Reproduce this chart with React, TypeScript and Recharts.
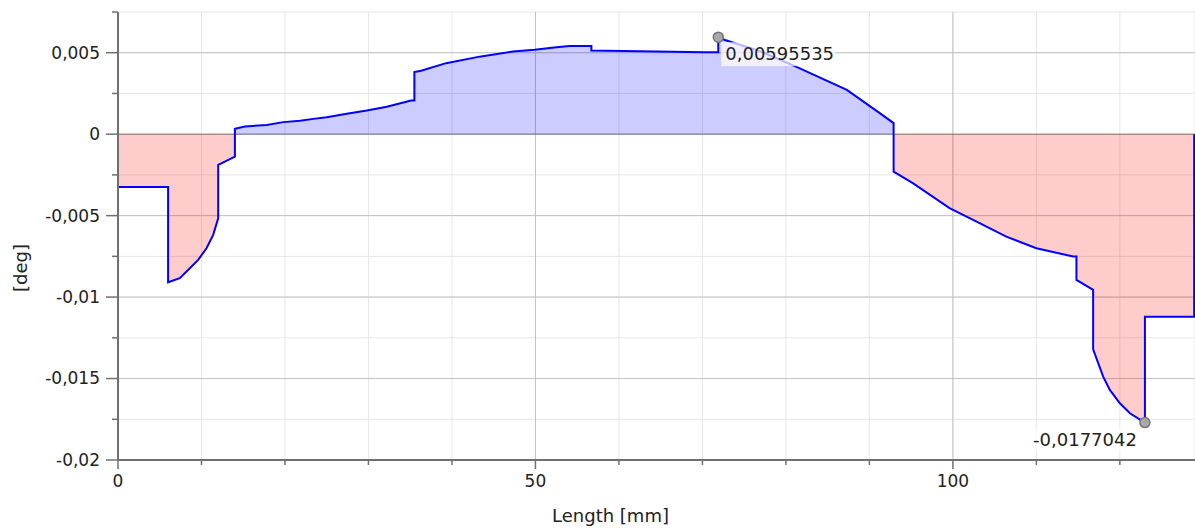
import {
  ComposedChart,
  Area,
  Line,
  Scatter,
  XAxis,
  YAxis,
  CartesianGrid,
} from 'recharts';

// rotation along the length
const lengthMm = [
  0, 0, 6.0, 6.0, 7.4, 8.6, 9.6, 10.6, 11.4, 12.0, 12.0, 12.8, 14.0, 14.0, 15.2, 17.8, 19.8, 21.8,
  23.4, 25.0, 27.4, 29.8, 32.2, 35.1, 35.5, 35.5, 36.3, 39.3, 43.3, 47.3, 49.9, 52.5, 54.1, 56.7,
  56.7, 70.3, 71.9, 71.9, 72.7, 76.9, 81.6, 87.3, 91.2, 92.9, 92.9, 95.2, 99.6, 103.2, 106.4, 110.0,
  114.4, 114.8, 114.8, 116.8, 116.8, 118.0, 118.8, 120.0, 121.2, 123.0, 123.0, 128.9, 128.9,
];
const rotationDeg = [
  0, -0.00324, -0.00324, -0.00909, -0.00884, -0.00823, -0.00772, -0.007, -0.00618, -0.00516,
  -0.00188, -0.00168, -0.00138, 0.00033, 0.00047, 0.00057, 0.00074, 0.00083, 0.00094, 0.00104,
  0.00125, 0.00145, 0.00169, 0.00206, 0.00206, 0.00381, 0.00389, 0.00436, 0.00476, 0.00507,
  0.00518, 0.00533, 0.00542, 0.00542, 0.00513, 0.00503, 0.00503, 0.00595535, 0.00578, 0.0051,
  0.00405, 0.00272, 0.00131, 0.00068, -0.0023, -0.00301, -0.00454, -0.00546, -0.00629, -0.007,
  -0.00751, -0.00751, -0.00894, -0.00956, -0.0132, -0.01488, -0.0157, -0.01652, -0.01713,
  -0.0177042, -0.0112, -0.0112, 0,
];

// marked extremes
const extremeX = [71.9, 123.0];
const extremeV = [0.00595535, -0.0177042];

const xTicks = [0, 10, 20, 30, 40, 50, 60, 70, 80, 90, 100, 110, 120];
const xMajor = [0, 50, 100];
const yTicks = [
  -0.02, -0.0175, -0.015, -0.0125, -0.01, -0.0075, -0.005, -0.0025, 0, 0.0025, 0.005, 0.0075,
];
const yMajor = [-0.02, -0.015, -0.01, -0.005, 0, 0.005];

const rows = lengthMm.map((x, i) => ({
  x,
  v: rotationDeg[i],
  pos: Math.max(rotationDeg[i], 0),
  neg: Math.min(rotationDeg[i], 0),
}));
const extremes = extremeX.map((x, i) => ({ x, v: extremeV[i] }));

const FONT = '"DejaVu Sans", Verdana, sans-serif';
const TEXT = '#222';
const comma = (v: number) => String(v).replace('.', ',');

const YTick = (props: any) => {
  const { x, y, payload } = props;
  const major = yMajor.includes(payload.value);
  return (
    <g>
      <line x1={x - (major ? 12 : 6)} x2={x} y1={y} y2={y} stroke="#707070" strokeWidth={1.5} />
      {major && (
        <text x={x - 18} y={y} dy="0.35em" textAnchor="end" fontSize={17} fontFamily={FONT} fill={TEXT}>
          {comma(payload.value)}
        </text>
      )}
    </g>
  );
};

const XTick = (props: any) => {
  const { x, y, payload } = props;
  const major = xMajor.includes(payload.value);
  return (
    <g>
      <line x1={x} x2={x} y1={y} y2={y + (major ? 9 : 5)} stroke="#707070" strokeWidth={1.5} />
      {major && (
        <text x={x} y={y + 21} dy="0.35em" textAnchor="middle" fontSize={17} fontFamily={FONT} fill={TEXT}>
          {payload.value}
        </text>
      )}
    </g>
  );
};

const ExtremeMark = (props: any) => {
  const { cx, cy, payload } = props;
  const txt = comma(payload.v);
  const right = payload.v > 0;
  const w = txt.length * 10.8 + 6;
  const bx = right ? cx + 3 : cx - 8 - w;
  return (
    <g>
      <rect x={bx} y={cy + 5} width={w} height={24} fill="#fff" fillOpacity={0.7} />
      <text
        x={right ? cx + 7 : cx - 8}
        y={cy + 23}
        textAnchor={right ? 'start' : 'end'}
        fontSize={18}
        fontFamily={FONT}
        fill={TEXT}
      >
        {txt}
      </text>
      <circle cx={cx} cy={cy} r={5} fill="#a9a9a9" stroke="#767676" strokeWidth={1.5} />
    </g>
  );
};

export default function App() {
  return (
    <div style={{ position: 'absolute', left: 0, top: 0, background: '#fff' }}>
      <ComposedChart width={1195} height={528} data={rows} margin={{ top: 12, right: 0, left: 0, bottom: 0 }}>
        <CartesianGrid stroke="#e6e6e6" />
        <CartesianGrid stroke="#c2c2c2" horizontalValues={[-0.015, -0.01, -0.005, 0.005]} verticalValues={[50, 100]} />
        <CartesianGrid stroke="#777" vertical={false} horizontalValues={[0]} />

        <XAxis
          dataKey="x"
          type="number"
          domain={[0, 129]}
          ticks={xTicks}
          interval={0}
          height={68}
          tickSize={0}
          tickMargin={0}
          tick={<XTick />}
          axisLine={{ stroke: '#707070', strokeWidth: 2 }}
          label={{
            value: 'Length [mm]',
            position: 'insideBottom',
            offset: 6,
            dx: -46,
            fontSize: 18,
            fontFamily: FONT,
            fill: TEXT,
          }}
        />
        <YAxis
          type="number"
          domain={[-0.02, 0.0075]}
          ticks={yTicks}
          interval={0}
          width={118}
          tickSize={0}
          tickMargin={0}
          tick={<YTick />}
          axisLine={{ stroke: '#707070', strokeWidth: 2 }}
          label={{
            content: (p: any) => {
              const vb = p.viewBox;
              const cy = vb.y + vb.height / 2 + 32;
              return (
                <text
                  x={21}
                  y={cy}
                  transform={`rotate(-90, 21, ${cy})`}
                  textAnchor="middle"
                  dy="0.35em"
                  fontSize={18}
                  fontFamily={FONT}
                  fill={TEXT}
                >
                  [deg]
                </text>
              );
            },
          }}
        />

        <Area
          type="linear"
          dataKey="pos"
          baseValue={0}
          stroke="none"
          fill="#0000ff"
          fillOpacity={0.2}
          isAnimationActive={false}
        />
        <Area
          type="linear"
          dataKey="neg"
          baseValue={0}
          stroke="none"
          fill="#ff0000"
          fillOpacity={0.2}
          isAnimationActive={false}
        />
        <Line
          type="linear"
          dataKey="v"
          stroke="#0000ff"
          strokeWidth={2}
          dot={false}
          isAnimationActive={false}
        />
        <Scatter data={extremes} dataKey="v" shape={<ExtremeMark />} isAnimationActive={false} />
      </ComposedChart>
    </div>
  );
}
